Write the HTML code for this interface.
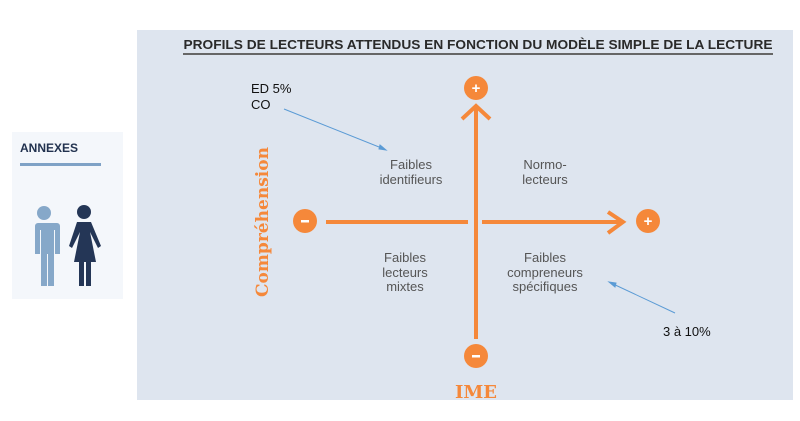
<!DOCTYPE html>
<html><head><meta charset="utf-8"><style>
body{margin:0;width:800px;height:416px;background:#fff;overflow:hidden;font-family:"Liberation Sans",sans-serif}
</style></head><body>
<svg width="800" height="416" xmlns="http://www.w3.org/2000/svg">
<rect x="12" y="132" width="111" height="167" fill="#f4f7fb"/>
<text x="20" y="152" font-size="12" font-weight="bold" fill="#22324f">ANNEXES</text>
<rect x="20" y="163" width="81" height="3" fill="#7fa2c6"/>
<g fill="#86a8c9">
<circle cx="44" cy="213" r="7"/>
<path d="M31 223 h26 a3 3 0 0 1 3 3 v28 h-5 v-24 h-1 v56 h-6 v-32 h-1 v32 h-6 v-56 h-1 v24 h-5 v-28 a3 3 0 0 1 3 -3z"/>
</g>
<g fill="#243656">
<circle cx="84" cy="212" r="7"/>
<path d="M77 222 h14 l10 24 -3 2 -8 -16 6 30 h-5 v24 h-5 v-24 h-2 v24 h-5 v-24 h-5 l6 -30 -8 16 -3 -2z"/>
</g>
<rect x="137" y="30" width="656" height="370" fill="#dee5ef"/>
<text x="478" y="49" font-size="12.5" font-weight="bold" fill="#2a2a2a" text-anchor="middle" textLength="589" lengthAdjust="spacingAndGlyphs">PROFILS DE LECTEURS ATTENDUS EN FONCTION DU MODÈLE SIMPLE DE LA LECTURE</text>
<rect x="183" y="53" width="590" height="2" fill="#666"/>
<g stroke="#f5883a" stroke-width="4" fill="none" stroke-linecap="butt">
<line x1="476" y1="108" x2="476" y2="339"/>
<polyline points="462,119 476,106 490,119"/>
<line x1="326" y1="222" x2="468" y2="222"/>
<line x1="482" y1="222" x2="623" y2="222"/>
<polyline points="608,212 623,222 608,233"/>
</g>
<g fill="#f5883a">
<circle cx="476" cy="88" r="12"/><circle cx="476" cy="356" r="12"/>
<circle cx="305" cy="221" r="12"/><circle cx="648" cy="221" r="12"/>
</g>
<g fill="#fff" font-size="15" font-weight="bold" text-anchor="middle">
<text x="476" y="93">+</text><text x="648" y="226">+</text>
<rect x="472" y="355" width="8" height="2.5"/><rect x="301" y="220" width="8" height="2.5"/>
</g>
<text x="476" y="398" font-family="DejaVu Serif,serif" font-weight="bold" font-size="18" fill="#f5883a" text-anchor="middle">IME</text>
<text transform="translate(268,222) rotate(-90)" font-family="DejaVu Serif,serif" font-weight="bold" font-size="17" fill="#f5883a" text-anchor="middle" textLength="150" lengthAdjust="spacingAndGlyphs">Compréhension</text>
<g font-size="13" fill="#555" text-anchor="middle">
<text x="411" y="169">Faibles</text><text x="411" y="184">identifieurs</text>
<text x="545" y="169">Normo-</text><text x="545" y="184">lecteurs</text>
<text x="405" y="262">Faibles</text><text x="405" y="277">lecteurs</text><text x="405" y="291">mixtes</text>
<text x="545" y="262">Faibles</text><text x="545" y="277">compreneurs</text><text x="545" y="291">spécifiques</text>
</g>
<g font-size="13" fill="#111">
<text x="251" y="93">ED 5%</text><text x="251" y="109">CO</text>
<text x="663" y="336">3 à 10%</text>
</g>
<g stroke="#5b9bd5" stroke-width="1" fill="#5b9bd5">
<line x1="284" y1="109" x2="384" y2="149"/>
<path d="M386 150 l-6 -5 -1 4z"/>
<line x1="675" y1="313" x2="611" y2="283"/>
<path d="M609 282 l6 5 1 -4z"/>
</g>
</svg>
</body></html>
